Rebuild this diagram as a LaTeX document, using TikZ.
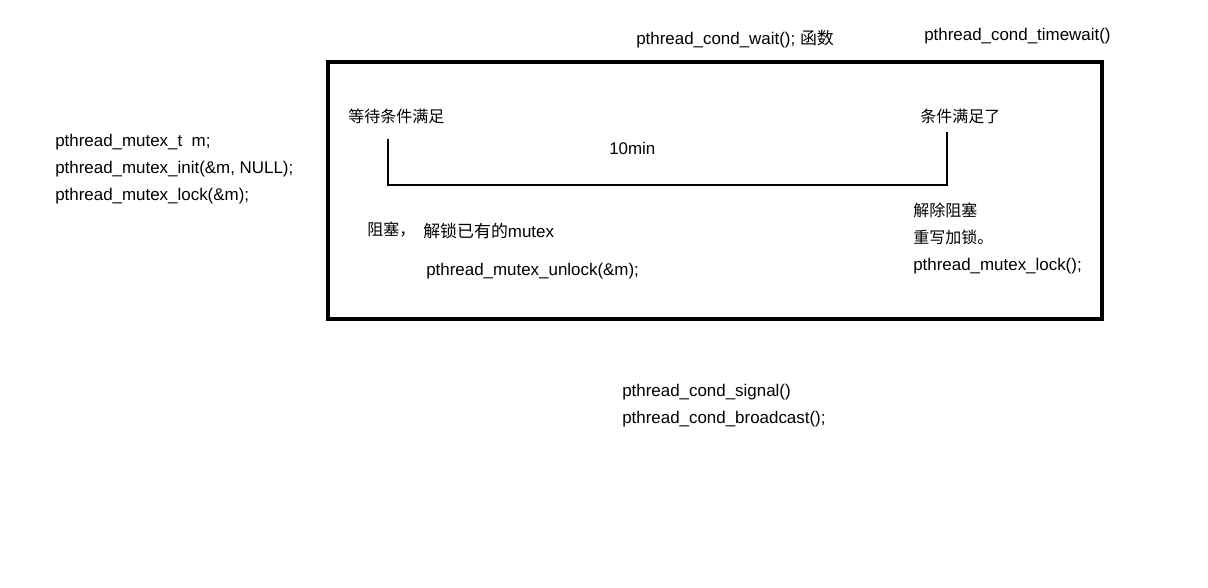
\documentclass[tikz,border=0pt]{standalone}
\usepackage{fontspec}
\setmainfont{Liberation Sans}
\newfontfamily\cjk{Noto Sans CJK SC}
\usepackage{tikz}
\usetikzlibrary{positioning}

\tikzset{
  txt/.style={inner sep=0pt, anchor=west, font=\fontsize{12.7pt}{15pt}\selectfont, text height=9.5pt, text depth=2.5pt, yshift=-1.5pt},
  cjktxt/.style={txt, font=\fontsize{12pt}{15pt}\selectfont\cjk},
  frame/.style={draw, line width=2.3pt},
  bar/.style={draw, line width=2pt}
}

\begin{document}
\begin{tikzpicture}[x=0.75pt,y=-0.75pt]
    \useasboundingbox (0,0) rectangle (1208,588);

    % declarations on the left
    \node[txt] (decl) at (55,140) {pthread\_mutex\_t\ \ m;};
    \node[txt] (init) [below=6.4pt of decl.south west, anchor=north west] {pthread\_mutex\_init(\&m, NULL);};
    \node[txt] (lock) [below=6.4pt of init.south west, anchor=north west] {pthread\_mutex\_lock(\&m);};

    % function names above the box
    \node[txt] (wait) at (636,38) {pthread\_cond\_wait(); {\cjk 函数}};
    \node[txt] (timewait) at (924,34) {pthread\_cond\_timewait()};

    \draw[frame] (328,62) rectangle (1102,319);

    \node[cjktxt] (start) at (348,116) {等待条件满足};
    \node[cjktxt] (ready) at (920,116) {条件满足了};
    \node[txt] (dur) at (609,148) {10min};

    \coordinate (tl) at (388,139);
    \coordinate (bl) at (388,185);
    \coordinate (br) at (947,185);
    \coordinate (tr) at (947,132);
    \path[bar] (tl) -- (bl) -- (br) -- (tr);

    % left side: blocking
    \node[cjktxt] (block) at (367,229) {阻塞，};
    \node[txt] (release) at (423,231) {{\cjk 解锁已有的}mutex};
    \node[txt] (unlock) at (426,269) {pthread\_mutex\_unlock(\&m);};

    % right side: waking up
    \node[cjktxt] (wake) at (913,210) {解除阻塞};
    \node[cjktxt] (relock) [below=6.4pt of wake.south west, anchor=north west] {重写加锁。};
    \node[txt] (lockcall) [below=6.4pt of relock.south west, anchor=north west] {pthread\_mutex\_lock();};

    % notify calls
    \node[txt] (signal) at (622,390) {pthread\_cond\_signal()};
    \node[txt] (broadcast) [below=6.4pt of signal.south west, anchor=north west] {pthread\_cond\_broadcast();};
\end{tikzpicture}
\end{document}
